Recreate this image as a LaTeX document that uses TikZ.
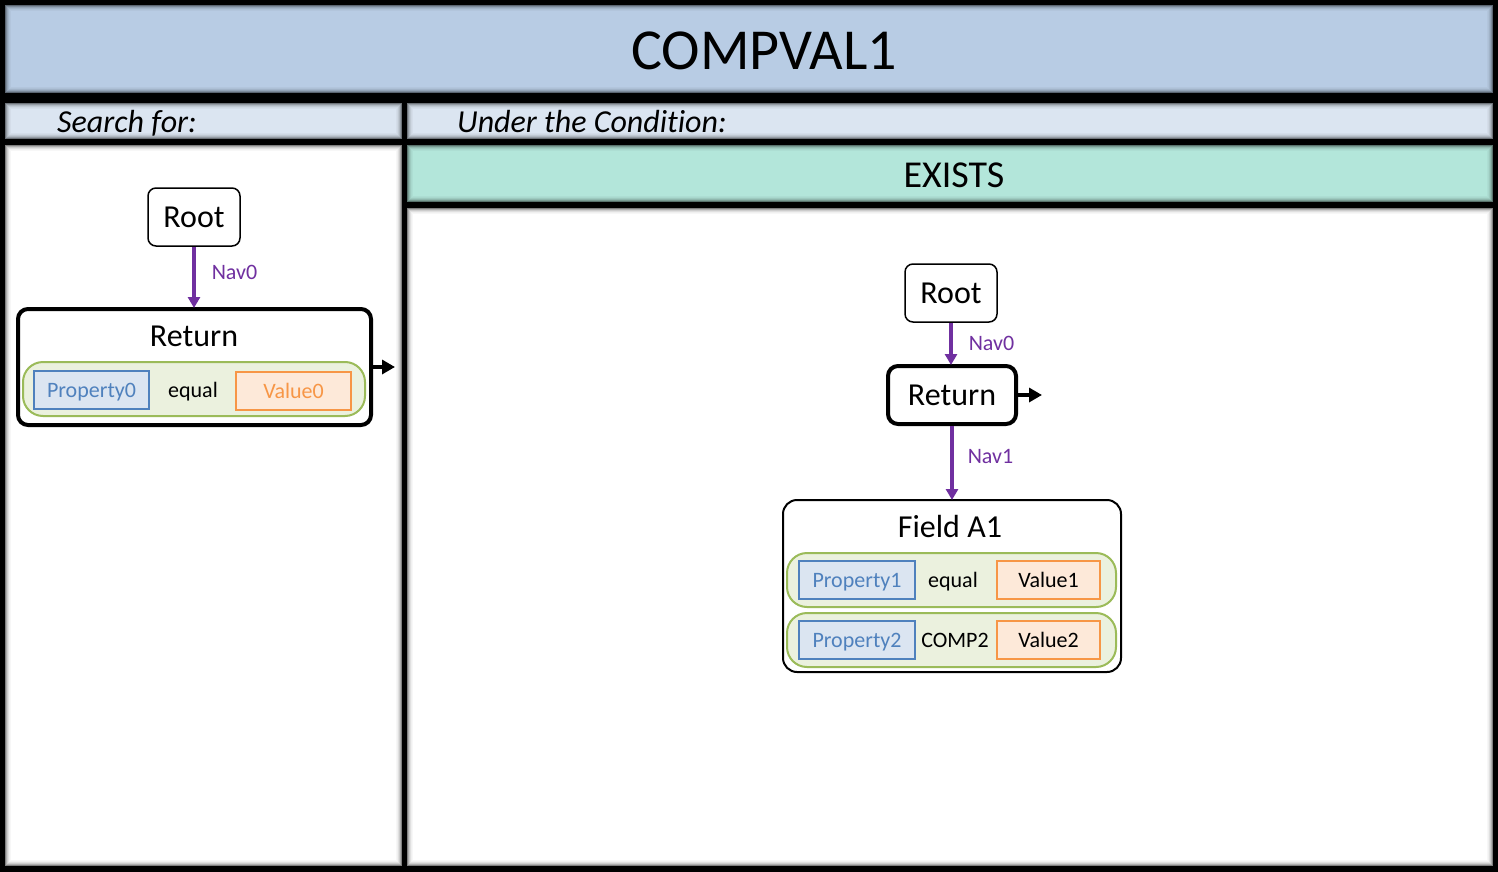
\documentclass[tikz,border=0pt]{standalone}
\usepackage{fontspec}
\setmainfont{Carlito}[Ligatures=NoCommon]
\usepackage{tikz}
\usetikzlibrary{arrows.meta, positioning, calc}
\definecolor{titlefill}{RGB}{184, 204, 228}
\definecolor{barfill}{RGB}{219, 229, 241}
\definecolor{existsfill}{RGB}{179, 230, 218}
\definecolor{navpurple}{RGB}{112, 48, 160}
\definecolor{condgreen}{RGB}{155, 187, 89}
\definecolor{condfill}{RGB}{235, 241, 222}
\definecolor{propblue}{RGB}{79, 129, 189}
\definecolor{propfill}{RGB}{219, 229, 241}
\definecolor{valorange}{RGB}{247, 150, 70}
\definecolor{valfill}{RGB}{253, 233, 217}
\newcommand{\px}[1]{\fontsize{#1}{#1}\selectfont}
\newcommand{\shadedpanel}[3]{%
  \fill[#3] #1 rectangle #2;
  \foreach \i/\o in {0/0.5,1/0.32,2/0.2,3/0.12,4/0.06,5/0.03}{
    \draw[black, opacity=\o, line width=1pt] ($#1+(\i+0.5,\i+0.5)$) rectangle ($#2-(\i+0.5,\i+0.5)$);
  }
}
\tikzset{
  rootbox/.style  = {rectangle, rounded corners=8pt, draw=black, line width=1.5pt, fill=white, minimum width=92pt, minimum height=58pt, inner sep=0pt, font=\px{32}},
  retbox/.style   = {rectangle, rounded corners=10pt, draw=black, line width=4pt, fill=white, inner sep=0pt},
  fieldbox/.style = {rectangle, rounded corners=14pt, draw=black, line width=2pt, fill=white, inner sep=0pt},
  condrow/.style  = {rectangle, rounded corners=20pt, draw=condgreen, line width=2pt, fill=condfill, minimum height=54pt, inner sep=0pt},
  propbox/.style  = {rectangle, draw=propblue, line width=2pt, fill=propfill, text=propblue, minimum height=38pt, inner sep=0pt, text height=19pt, text depth=4pt, font=\px{22}},
  valbox/.style   = {rectangle, draw=valorange, line width=2pt, fill=valfill, minimum height=38pt, inner sep=0pt, text height=19pt, text depth=4pt, font=\px{22}},
  optxt/.style    = {inner sep=0pt, text height=19pt, text depth=4pt, font=\px{22}},
  bigtxt/.style   = {inner sep=0pt, font=\px{32}},
  bartxt/.style   = {inner sep=0pt, anchor=base west, font=\px{32}\itshape},
  nav/.style      = {-{Triangle[length=11pt,width=12pt]}, line width=3.5pt, navpurple, shorten >=-1pt},
  navlbl/.style   = {inner sep=0pt, text=navpurple, font=\px{22}, anchor=west},
  outarr/.style   = {-{Triangle[length=13pt,width=14pt]}, line width=4pt, black},
}
\begin{document}
\begin{tikzpicture}[x=1pt, y=-1pt]
  \useasboundingbox (0,0) rectangle (1498,872);
  \fill[black] (0,0) rectangle (1498,872);

  \shadedpanel{(5,5)}{(1493,93)}{titlefill}
  \shadedpanel{(5,103)}{(402,139)}{barfill}
  \shadedpanel{(407,103)}{(1493,139)}{barfill}
  \shadedpanel{(5,145)}{(402,866)}{white}
  \shadedpanel{(407,145)}{(1493,202)}{existsfill}
  \shadedpanel{(407,208)}{(1493,866)}{white}

  \node[inner sep=0pt, font=\px{58}] (title) at (764,51) {COMPVAL1};
  \node[bartxt] (searchlbl) at (57,132) {Search for:};
  \node[bartxt] (condlbl) at (457,132) {Under the Condition:};
  \node[inner sep=0pt, font=\px{38}] (exists) at (954,175) {EXISTS};

  % search for
  \node[rootbox] (root0) at (194,217) {Root};
  \node[retbox, minimum width=353pt, minimum height=116pt] (ret0) at (194.5,367) {};
  \node[bigtxt] (ret0txt) at (194,336) {Return};
  \node[condrow, minimum width=342pt] (cond0) at (194,389) {};
  \node[propbox, minimum width=115pt] (prop0) at (91.5,389.5) {Property0};
  \node[optxt] (op0) at (193,390) {equal};
  \node[valbox, minimum width=115pt, text=valorange] (val0) at (293.5,391) {Value0};
  \draw[nav] (root0.south) -- node[navlbl, xshift=16pt, yshift=4pt] (nav0a) {Nav0} (root0.south |- ret0.north);
  \coordinate (out0) at ($(ret0.east)+(22,0)$);
  \draw[outarr] (ret0.east) -- (out0);

  % condition
  \node[rootbox] (root1) at (951,293) {Root};
  \node[retbox, minimum width=128pt, minimum height=58pt, font=\px{32}] (ret1) at (952,395) {Return};
  \node[fieldbox, minimum width=338pt, minimum height=172pt] (field1) at (952,586) {};
  \node[bigtxt] (field1txt) at (950,526) {Field A1};
  \node[condrow, minimum width=329pt] (cond1) at (951.5,580) {};
  \node[propbox, minimum width=116pt] (prop1) at (857,580) {Property1};
  \node[optxt] (op1) at (953,580) {equal};
  \node[valbox, minimum width=103pt] (val1) at (1048.5,580) {Value1};
  \node[condrow, minimum width=329pt] (cond2) at (951.5,640) {};
  \node[propbox, minimum width=116pt] (prop2) at (857,640) {Property2};
  \node[optxt] (op2) at (955,640) {COMP2};
  \node[valbox, minimum width=103pt] (val2) at (1048.5,640) {Value2};
  \draw[nav] (root1.south) -- node[navlbl, xshift=16pt] (nav0b) {Nav0} (root1.south |- ret1.north);
  \draw[nav] (ret1.south) -- node[navlbl, xshift=14pt, yshift=6pt] (nav1b) {Nav1} (ret1.south |- field1.north);
  \coordinate (out1) at ($(ret1.east)+(24,0)$);
  \draw[outarr] (ret1.east) -- (out1);
\end{tikzpicture}
\end{document}
